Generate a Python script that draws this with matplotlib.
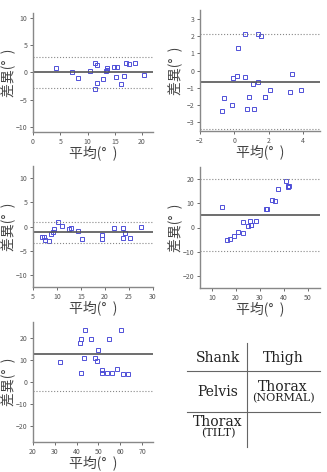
import matplotlib
matplotlib.use("Agg")
import matplotlib.pyplot as plt
from matplotlib.lines import Line2D

plt.rcParams['font.family'] = ['Noto Sans CJK JP', 'DejaVu Sans']

# Bland-Altman data, one set per segment
shank_mean = [4.3, 7.1, 8.2, 10.5, 11.3, 11.8, 11.3, 11.8, 12.9, 13.5, 13.5, 13.4,
              14.9, 15.4, 15.2, 16.2, 16.6, 17.1, 17.6, 18.7, 20.3]
shank_diff = [0.86, 0.0, -1.1, 0.3, 1.67, 1.3, -3.0, -2.0, -1.2, 0.9, 0.55, 0.25,
              1.1, 1.1, -0.8, -2.2, -0.7, 1.67, 1.5, 1.8, -0.37]

thigh_mean = [0.65, 1.41, 1.55, 0.21, -0.06, 0.15, 0.65, 1.09, 1.41, 3.35, -0.61,
              -0.69, -0.15, 0.75, 1.13, 0.86, 1.78, 1.82, 2.07, 3.23, 3.92]
thigh_diff = [2.1, 2.1, 1.98, 1.29, -0.46, -0.29, -0.4, -0.79, -0.69, -0.23, -1.6,
              -2.35, -2.0, -2.2, -2.23, -1.56, -1.56, -1.56, -1.15, -1.25, -1.12]

pelvis_mean = [6.9, 7.2, 7.4, 8.4, 8.85, 9.2, 9.3, 10.3, 11.1, 12.5, 12.9, 14.3,
               15.2, 19.4, 19.4, 21.8, 23.8, 24.2, 23.8, 25.3, 27.6]
pelvis_diff = [-2.15, -2.2, -2.8, -3.0, -1.6, -1.2, -0.55, 0.9, 0.15, -0.5, -0.3,
               -0.85, -2.5, -1.75, -2.5, -0.4, -0.4, -1.3, -2.35, -2.4, -0.15]

thorax_n_mean = [14.0, 16.3, 17.7, 19.2, 21.0, 23.1, 23.1, 25.1, 25.7, 26.1, 26.3,
                 28.4, 32.6, 32.9, 34.9, 36.1, 37.5, 40.9, 41.6, 41.8, 42.0]
thorax_n_diff = [8.6, -5.1, -4.6, -3.6, -1.9, -2.4, 2.2, 0.7, 2.8, 1.0, 1.0,
                 2.6, 7.8, 7.6, 11.4, 11.1, 15.9, 19.3, 16.6, 17.3, 17.0]

thorax_t_mean = [32.6, 43.7, 41.8, 41.5, 46.8, 43.3, 41.9, 48.3, 49.4, 49.8, 55.0,
                 51.4, 51.4, 53.9, 56.4, 58.7, 60.5, 61.4, 63.4]
thorax_t_diff = [9.1, 23.8, 19.8, 17.7, 19.8, 10.8, 4.3, 10.8, 9.7, 14.5, 19.8,
                 5.7, 4.0, 4.0, 4.0, 5.8, 23.8, 3.7, 3.7]

# mean bias and limits of agreement
bias = [0.05, -0.65, -1.2, 5.2, 12.9]
loa = [2.9, 2.75, 2.2, 14.9, 16.9]

xlims = [(0, 22), (-2, 5), (5, 30), (5, 55), (20, 75)]
ylims = [(-11, 11), (-3.5, 3.5), (-12.5, 12.5), (-25, 25), (-27.5, 27.5)]
xticks = [[0, 5, 10, 15, 20], [-2, 0, 2, 4], [5, 10, 15, 20, 25, 30],
          [10, 20, 30, 40, 50], [20, 30, 40, 50, 60, 70]]
yticks = [[-10, -5, 0, 5, 10], [-3, -2, -1, 0, 1, 2, 3], [-10, -5, 0, 5, 10],
          [-20, -10, 0, 10, 20], [-20, -10, 0, 10, 20]]

means = [shank_mean, thigh_mean, pelvis_mean, thorax_n_mean, thorax_t_mean]
diffs = [shank_diff, thigh_diff, pelvis_diff, thorax_n_diff, thorax_t_diff]

W, H = 327, 472
# axes boxes in pixels: left, top, right, bottom
boxes = [(33, 13, 153, 132), (200, 10, 320, 131), (33, 166, 153, 287),
         (200, 167, 320, 288), (33, 322, 153, 442)]

fig = plt.figure(figsize=(W / 100, H / 100), dpi=100)

for i in range(5):
    l, t, r, b = boxes[i]
    ax = fig.add_axes([l / W, 1 - b / H, (r - l) / W, (b - t) / H])
    ax.plot(means[i], diffs[i], 's', ms=3, mfc='none', mec='#5050d8', mew=0.7)
    ax.axhline(bias[i], color='#555555', lw=1.2)
    ax.axhline(bias[i] + loa[i], color='#888888', lw=0.8, ls=':')
    ax.axhline(bias[i] - loa[i], color='#888888', lw=0.8, ls=':')
    ax.set_xlim(xlims[i])
    ax.set_ylim(ylims[i])
    ax.set_xticks(xticks[i])
    ax.set_yticks(yticks[i])
    for s in ['top', 'right']:
        ax.spines[s].set_visible(False)
    for s in ['left', 'bottom']:
        ax.spines[s].set_color('#888888')
        ax.spines[s].set_linewidth(1.0)
    ax.tick_params(labelsize=5, colors='#555555', length=2, width=0.6, pad=2)
    ax.set_xlabel('平均(°  )', fontsize=10, color='#444444', va='center')
    ax.set_ylabel('差異(°  )', fontsize=10, color='#444444', va='center')
    ax.xaxis.set_label_coords(0.5, -21 / (b - t))
    ax.yaxis.set_label_coords(-24 / (r - l), 0.5)

# legend table showing the panel arrangement
serif = ['DejaVu Serif']
lc = '#666666'
fig.add_artist(Line2D([247 / W, 247 / W], [1 - 343 / H, 1 - 447 / H], color=lc, lw=0.8))
fig.add_artist(Line2D([187 / W, 320 / W], [1 - 371 / H, 1 - 371 / H], color=lc, lw=0.8))
fig.add_artist(Line2D([187 / W, 320 / W], [1 - 412 / H, 1 - 412 / H], color=lc, lw=0.8))

cells = [("Shank", 218, 358, 10), ("Thigh", 283, 358, 10), ("Pelvis", 218, 392, 10),
         ("Thorax", 283, 387, 10), ("(NORMAL)", 283, 398, 8),
         ("Thorax", 218, 422, 10), ("(TILT)", 218, 433, 8)]
for txt, x, y, fs in cells:
    fig.text(x / W, 1 - y / H, txt, ha='center', va='center', fontsize=fs,
             family=serif, color='#222222')

fig.savefig('out.png', dpi=100)
